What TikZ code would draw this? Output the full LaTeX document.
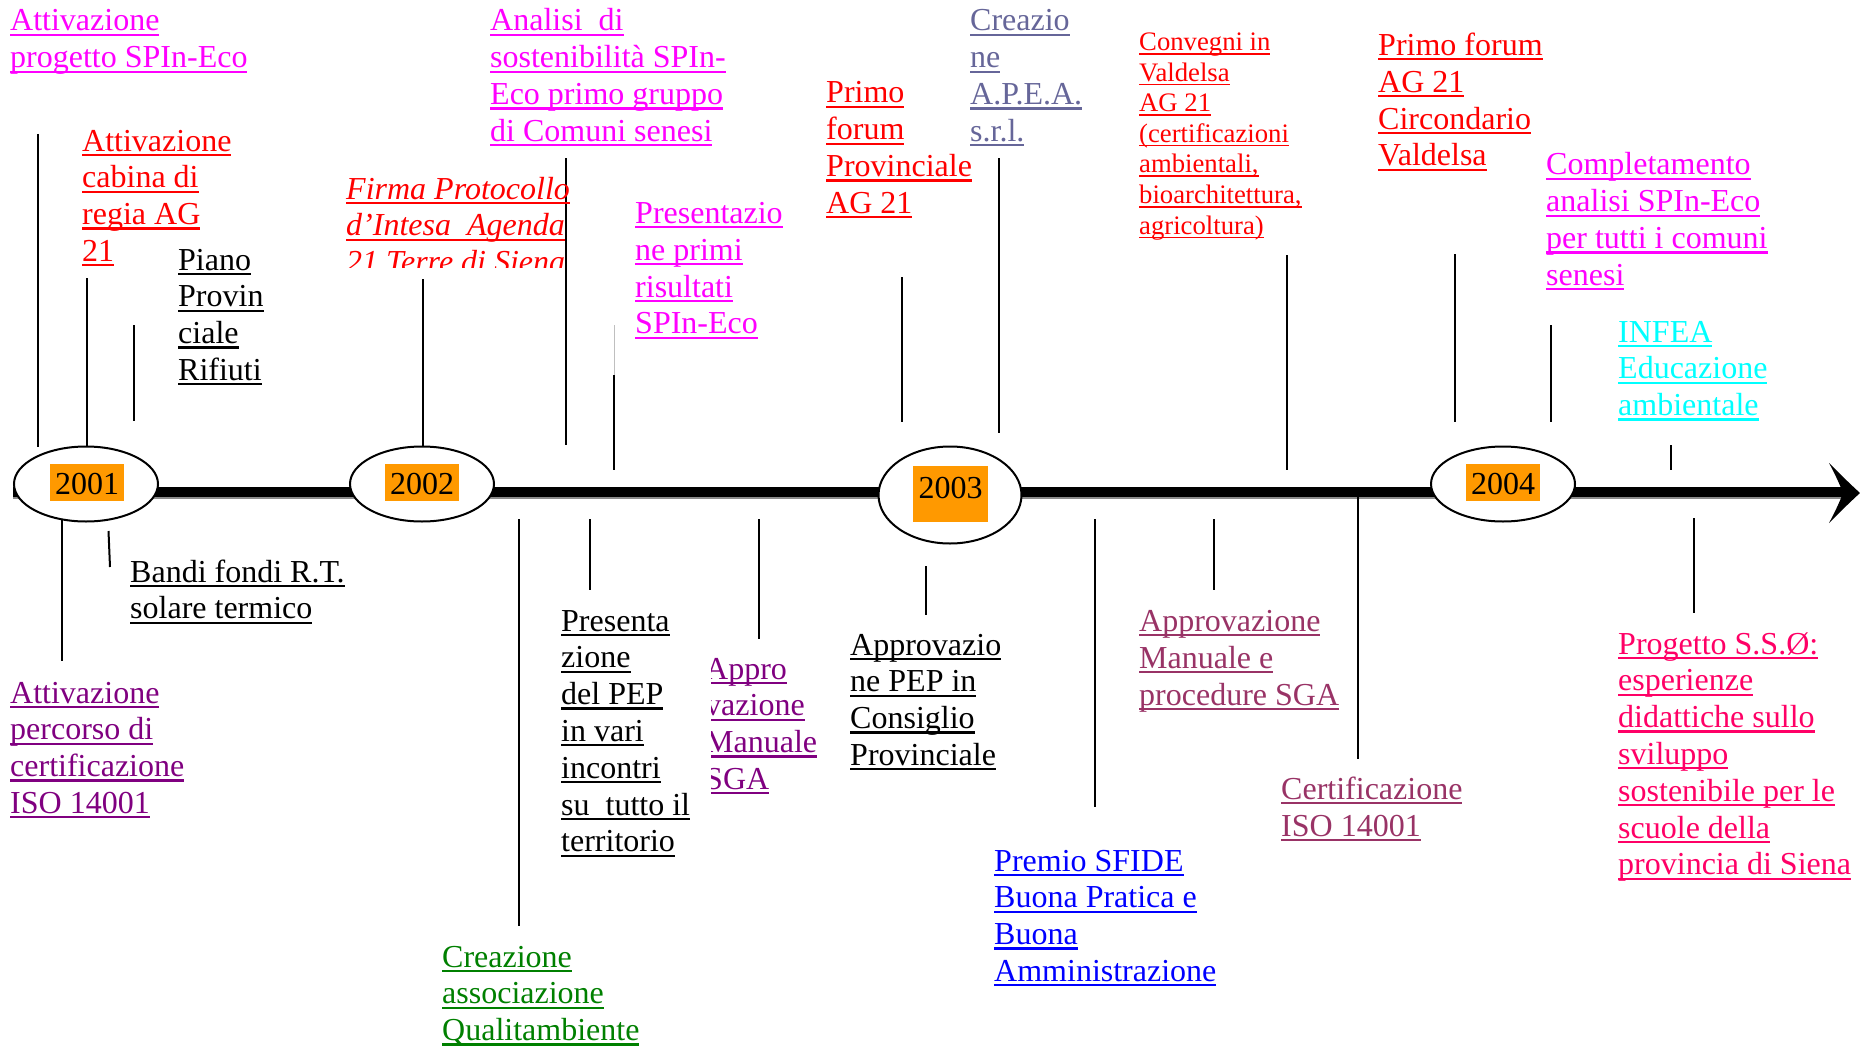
\documentclass[tikz,border=0pt]{standalone}
\usepackage{fontspec}
\setmainfont{Liberation Serif}
\usetikzlibrary{shapes.geometric}
\definecolor{magc}{HTML}{FF00FF}
\definecolor{redc}{HTML}{FF0000}
\definecolor{cyac}{HTML}{00FFFF}
\definecolor{purc}{HTML}{800080}
\definecolor{grnc}{HTML}{008000}
\definecolor{bluc}{HTML}{0000FF}
\definecolor{slac}{HTML}{666699}
\definecolor{maroc}{HTML}{993366}
\definecolor{pinc}{HTML}{FF0066}
\definecolor{orgc}{HTML}{FF9900}
\newsavebox\ulbox
\newcommand\ulx[1]{\sbox\ulbox{#1}\rlap{\rule[-0.155em]{\wd\ulbox}{0.065em}}\usebox\ulbox}
\newcommand\Lne[1]{\hbox{\ulx{#1}}}
\newcommand\blk[1]{\vtop{#1}}
\tikzset{
  tb/.style={inner sep=0pt, anchor=base west, font=\fontsize{32}{36.8}\selectfont},
  tsm/.style={inner sep=0pt, anchor=base west, font=\fontsize{26.7}{30.6}\selectfont},
  tick/.style={line width=2pt, black},
  yell/.style={ellipse, draw=black, line width=2pt, fill=white, inner sep=0pt},
  ybox/.style={fill=orgc, inner sep=0pt},
  ytxt/.style={inner sep=0pt, anchor=base, font=\fontsize{32}{36.8}\selectfont}
}
\begin{document}
\begin{tikzpicture}[x=1pt,y=-1pt]
\useasboundingbox (0,0) rectangle (1860,1046);
\fill[white] (0,0) rectangle (1860,1046);

% timeline
\coordinate (tl0) at (13,492);
\coordinate (tl1) at (1846,492);
\draw[line width=11pt, black!45] ([yshift=-1pt]tl0) -- ([yshift=-1pt]tl1);
\draw[line width=9.5pt, black] (tl0) -- (tl1);
\fill[black] (1860,493) .. controls (1849,483) and (1839,473) .. (1829,463)
  .. controls (1835,474) and (1840,485) .. (1843,493)
  .. controls (1840,501) and (1835,512) .. (1829,523)
  .. controls (1839,513) and (1849,503) .. (1860,493) -- cycle;

% year ellipses
\node[yell, minimum width=144pt, minimum height=75pt] (e1) at (86,484) {};
\node[yell, minimum width=144pt, minimum height=75pt] (e2) at (422,484) {};
\node[yell, minimum width=143pt, minimum height=97pt] (e3) at (950,495) {};
\node[yell, minimum width=144pt, minimum height=75pt] (e4) at (1503,484) {};
\node[ybox, minimum width=74pt, minimum height=37pt] (b1) at (87,482.5) {};
\node[ybox, minimum width=74pt, minimum height=37pt] (b2) at (422,482.5) {};
\node[ybox, minimum width=75pt, minimum height=56pt] (b3) at (950.5,494) {};
\node[ybox, minimum width=74pt, minimum height=37pt] (b4) at (1503,482.5) {};
\node[ytxt] (y1) at (87,494) {2001};
\node[ytxt] (y2) at (422,494) {2002};
\node[ytxt] (y3) at (950.5,498) {2003};
\node[ytxt] (y4) at (1503,494) {2004};

% ticks above
\draw[tick] (38,134) -- (38,447);
\draw[tick] (87,278) -- (87,447);
\draw[tick] (134,325) -- (134,421);
\draw[tick] (423,279) -- (423,447);
\draw[tick] (566,158) -- (566,445);
\draw[line width=1pt, black!25] (614,325) -- (614,375);
\draw[tick] (614,375) -- (614,470);
\draw[tick] (902,277) -- (902,422);
\draw[tick] (999,158) -- (999,433);
\draw[tick] (1287,255) -- (1287,470);
\draw[tick] (1455,254) -- (1455,422);
\draw[tick] (1551,325) -- (1551,422);
\draw[tick] (1671,445) -- (1671,470);
% ticks below
\draw[tick] (62,519) -- (62,661);
\draw[tick] (108.5,531) -- (110,567);
\draw[tick] (519,519) -- (519,926);
\draw[tick] (590,519) -- (590,590);
\draw[tick] (759,519) -- (759,639);
\draw[tick] (926,566) -- (926,615);
\draw[tick] (1095,519) -- (1095,807);
\draw[tick] (1214,519) -- (1214,590);
\draw[tick] (1358,497) -- (1358,759);
\draw[tick] (1694,518) -- (1694,613);

% texts above
\node[tb, text=magc] (a1) at (10,31) {\blk{\Lne{Attivazione}\Lne{progetto SPIn-Eco}}};
\node[tb, text=redc] (a2) at (82,151) {\blk{\Lne{Attivazione}\Lne{cabina di}\Lne{regia AG}\Lne{21}}};
\node[tb, text=black] (a3) at (178,270) {\blk{\Lne{Piano}\Lne{Provin}\Lne{ciale}\Lne{Rifiuti}}};
\begin{scope}
\clip (330,150) rectangle (620,267);
\node[tb, text=redc, font=\fontsize{32}{36.8}\selectfont\itshape] (a4) at (346,199) {\blk{\Lne{Firma Protocollo}\Lne{d’Intesa~ Agenda}\Lne{21 Terre di Siena}}};
\end{scope}
\node[tb, text=magc] (a5) at (490,31) {\blk{\Lne{Analisi~ di}\Lne{sostenibilità SPIn-}\Lne{Eco primo gruppo}\Lne{di Comuni senesi}}};
\node[tb, text=magc] (a6) at (635,223.5) {\blk{\Lne{Presentazio}\Lne{ne primi}\Lne{risultati}\Lne{SPIn-Eco}}};
\node[tb, text=redc] (a7) at (826,103) {\blk{\Lne{Primo}\Lne{forum}\Lne{Provinciale}\Lne{AG 21}}};
\node[tb, text=slac] (a8) at (970,31) {\blk{\Lne{Creazio}\Lne{ne}\Lne{A.P.E.A.}\Lne{s.r.l.}}};
\node[tsm, text=redc] (a9) at (1139,50.5) {\blk{\Lne{Convegni in}\Lne{Valdelsa}\Lne{AG 21}\Lne{(certificazioni}\Lne{ambientali,}\Lne{bioarchitettura,}\Lne{agricoltura)}}};
\node[tb, text=redc] (a10) at (1378,55.5) {\blk{\Lne{Primo forum}\Lne{AG 21}\Lne{Circondario}\Lne{Valdelsa}}};
\node[tb, text=magc] (a11) at (1546,175) {\blk{\Lne{Completamento}\Lne{analisi SPIn-Eco}\Lne{per tutti i comuni}\Lne{senesi}}};
\node[tb, text=cyac] (a12) at (1618,342) {\blk{\Lne{INFEA}\Lne{Educazione}\Lne{ambientale}}};

% texts below
\node[tb, text=purc] (c1) at (10,703) {\blk{\Lne{Attivazione}\Lne{percorso di}\Lne{certificazione}\Lne{ISO 14001}}};
\node[tb, text=black] (c2) at (130,582) {\blk{\Lne{Bandi fondi R.T.}\Lne{solare termico}}};
\node[tb, text=grnc] (c3) at (442,967) {\blk{\Lne{Creazione}\Lne{associazione}\Lne{Qualitambiente}}};
\node[tb, text=black] (c4) at (561,631) {\blk{\Lne{Presenta}\Lne{zione}\Lne{del PEP}\Lne{in vari}\Lne{incontri}\Lne{su~ tutto il}\Lne{territorio}}};
\begin{scope}
\clip (711,640) rectangle (845,820);
\node[tb, text=purc] (c5) at (705,679) {\blk{\Lne{Appro}\Lne{vazione}\Lne{Manuale}\Lne{SGA}}};
\end{scope}
\node[tb, text=black] (c6) at (850,655) {\blk{\Lne{Approvazio}\Lne{ne PEP in}\Lne{Consiglio}\Lne{Provinciale}}};
\node[tb, text=bluc] (c7) at (994,871) {\blk{\Lne{Premio SFIDE}\Lne{Buona Pratica e}\Lne{Buona}\Lne{Amministrazione}}};
\node[tb, text=maroc] (c8) at (1139,631.5) {\blk{\Lne{Approvazione}\Lne{Manuale e}\Lne{procedure SGA}}};
\node[tb, text=maroc] (c9) at (1281,799.5) {\blk{\Lne{Certificazione}\Lne{ISO 14001}}};
\node[tb, text=pinc] (c10) at (1618,654) {\blk{\Lne{Progetto S.S.Ø:}\Lne{esperienze}\Lne{didattiche sullo}\Lne{sviluppo}\Lne{sostenibile per le}\Lne{scuole della}\Lne{provincia di Siena}}};
\end{tikzpicture}
\end{document}
